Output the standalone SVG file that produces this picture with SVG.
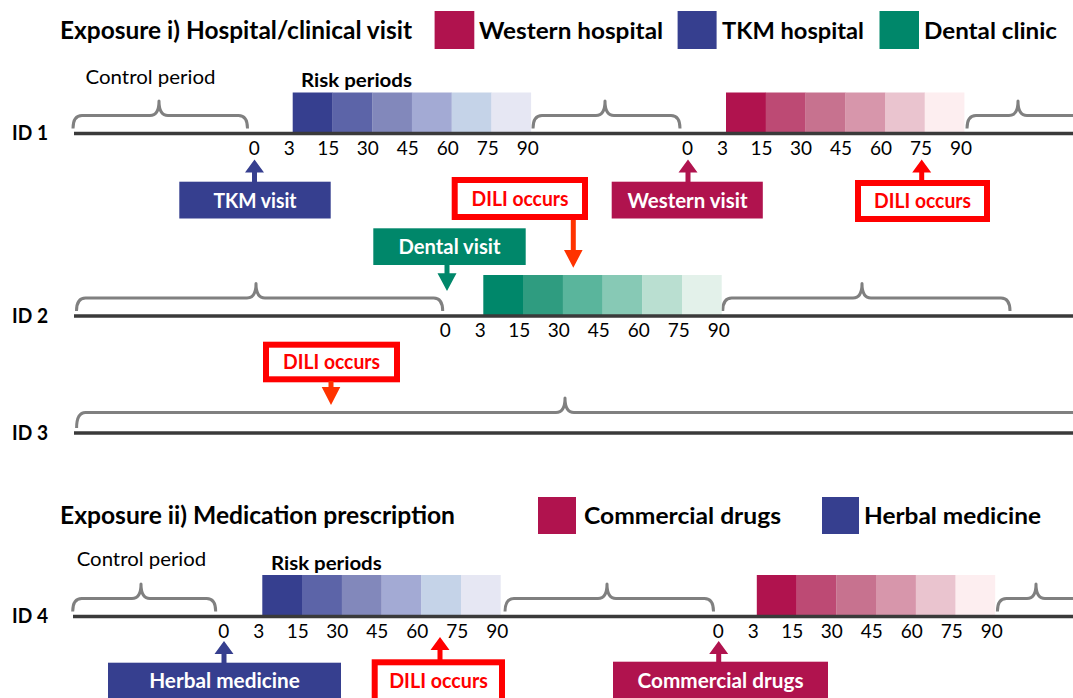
<svg xmlns="http://www.w3.org/2000/svg" width="1073" height="698" viewBox="0 0 1073 698">
<style>
text{font-family:Lato,"Open Sans","Liberation Sans",sans-serif;fill:#000}
.title{font-size:24px;font-weight:bold}
.leg{font-size:23.5px;font-weight:bold}
.id{font-size:20px;font-weight:bold}
.tick{font-size:19px;text-anchor:middle}
.cp{font-size:19.5px}
.rp{font-size:19.5px;font-weight:bold}
.bt{font-size:20px;font-weight:bold;fill:#fff;text-anchor:middle}
.rt{font-size:20px;font-weight:bold;fill:#ff0000;text-anchor:middle}
.line{stroke:#3a3a3a;stroke-width:3.5;fill:none}
.brace{stroke:#808080;stroke-width:3;fill:none;stroke-linejoin:round}
.rbox{fill:#fff;stroke:#ff0000;stroke-width:6}
.b1{fill:#363f8f}.b2{fill:#5c64a8}.b3{fill:#8288bb}.b4{fill:#a3aad4}.b5{fill:#c5d3e8}.b6{fill:#e6e7f3}
.r1{fill:#b0134e}.r2{fill:#bd4a74}.r3{fill:#c7728f}.r4{fill:#d796ab}.r5{fill:#eac4cf}.r6{fill:#fdeef0}
.g1{fill:#00876a}.g2{fill:#2f9c80}.g3{fill:#5ab59c}.g4{fill:#87c9b5}.g5{fill:#badfd1}.g6{fill:#e3f1ea}
</style>

<g id="title1">
<text class="title" x="60" y="39" textLength="352" lengthAdjust="spacingAndGlyphs">Exposure i) Hospital/clinical visit</text>
</g>
<g id="legend-western">
<rect class="r1" x="434.6" y="11" width="39.7" height="38"/>
<text class="leg" x="479" y="39" textLength="184" lengthAdjust="spacingAndGlyphs">Western hospital</text>
</g>
<g id="legend-tkm">
<rect class="b1" x="677.6" y="11" width="39" height="38"/>
<text class="leg" x="722" y="39" textLength="142" lengthAdjust="spacingAndGlyphs">TKM hospital</text>
</g>
<g id="legend-dental">
<rect class="g1" x="879.5" y="11" width="39.5" height="38"/>
<text class="leg" x="924" y="39" textLength="133" lengthAdjust="spacingAndGlyphs">Dental clinic</text>
</g>

<!-- ID 1 -->
<g id="id1">
<text class="id" x="12" y="139.5" textLength="36" lengthAdjust="spacingAndGlyphs">ID 1</text>
<text class="cp" x="85.5" y="84" textLength="130" lengthAdjust="spacingAndGlyphs">Control period</text>
<text class="rp" x="301" y="87" textLength="111" lengthAdjust="spacingAndGlyphs">Risk periods</text>
<path class="brace" d="M73 128.5 Q73 115.5 82 115.5 L150 115.5 Q159 115.5 159 101 Q159 115.5 168 115.5 L238.5 115.5 Q247.5 115.5 247.5 128.5"/>
<path class="brace" d="M533 128.5 Q533 115.5 542 115.5 L596 115.5 Q605 115.5 605 101 Q605 115.5 614 115.5 L671 115.5 Q680 115.5 680 128.5"/>
<path class="brace" d="M967 128.5 Q967 115.5 976 115.5 L1009 115.5 Q1018 115.5 1018 101 Q1018 115.5 1027 115.5 L1085 115.5"/>
<g>
<rect class="b1" x="292.7" y="92.5" width="40" height="40"/><rect class="b2" x="332.4" y="92.5" width="40" height="40"/><rect class="b3" x="372.2" y="92.5" width="40" height="40"/><rect class="b4" x="411.9" y="92.5" width="40" height="40"/><rect class="b5" x="451.7" y="92.5" width="40" height="40"/><rect class="b6" x="491.4" y="92.5" width="39.7" height="40"/>
</g>
<g>
<rect class="r1" x="726" y="92.5" width="40" height="40"/><rect class="r2" x="765.7" y="92.5" width="40" height="40"/><rect class="r3" x="805.5" y="92.5" width="40" height="40"/><rect class="r4" x="845.2" y="92.5" width="40" height="40"/><rect class="r5" x="885" y="92.5" width="40" height="40"/><rect class="r6" x="924.7" y="92.5" width="39.7" height="40"/>
</g>
<line class="line" x1="74" y1="133.5" x2="1073" y2="133.5"/>
<g>
<text class="tick" x="254.2" y="154.5">0</text><text class="tick" x="289.2" y="154.5">3</text><text class="tick" x="328.2" y="154.5">15</text><text class="tick" x="367.7" y="154.5">30</text><text class="tick" x="407.7" y="154.5">45</text><text class="tick" x="447.7" y="154.5">60</text><text class="tick" x="487.7" y="154.5">75</text><text class="tick" x="527.7" y="154.5">90</text>
</g>
<g>
<text class="tick" x="687.5" y="154.5">0</text><text class="tick" x="722.5" y="154.5">3</text><text class="tick" x="761.5" y="154.5">15</text><text class="tick" x="801" y="154.5">30</text><text class="tick" x="841" y="154.5">45</text><text class="tick" x="881" y="154.5">60</text><text class="tick" x="921" y="154.5">75</text><text class="tick" x="961" y="154.5">90</text>
</g>
</g>

<g id="tkm-visit">
<rect class="b1" x="179.3" y="181.7" width="151.4" height="36.8"/>
<text class="bt" x="255" y="207.5" textLength="83" lengthAdjust="spacingAndGlyphs">TKM visit</text>
</g>
<g id="dili-1a">
<rect class="rbox" x="454.7" y="180" width="130.3" height="37"/>
<text class="rt" x="520" y="205.5" textLength="97" lengthAdjust="spacingAndGlyphs">DILI occurs</text>
</g>
<g id="western-visit">
<rect class="r1" x="611.7" y="181.7" width="151.1" height="36.8"/>
<text class="bt" x="687.5" y="207.5" textLength="120" lengthAdjust="spacingAndGlyphs">Western visit</text>
</g>
<g id="dili-1b">
<rect class="rbox" x="858" y="183" width="129" height="36"/>
<text class="rt" x="922.5" y="208" textLength="97" lengthAdjust="spacingAndGlyphs">DILI occurs</text>
</g>
<g id="dental-visit">
<rect class="g1" x="373.3" y="228.3" width="152.4" height="36.7"/>
<text class="bt" x="449.5" y="254" textLength="102" lengthAdjust="spacingAndGlyphs">Dental visit</text>
</g>

<!-- ID 2 -->
<g id="id2">
<text class="id" x="12" y="323" textLength="36" lengthAdjust="spacingAndGlyphs">ID 2</text>
<path class="brace" d="M76.5 311 Q76.5 298 85.5 298 L247 298 Q256 298 256 283.5 Q256 298 265 298 L433.7 298 Q442.7 298 442.7 311"/>
<path class="brace" d="M722.7 311 Q722.7 298 731.7 298 L853 298 Q862 298 862 283.5 Q862 298 871 298 L1001 298 Q1010 298 1010 311"/>
<g>
<rect class="g1" x="483.3" y="275" width="40" height="40"/><rect class="g2" x="523" y="275" width="40" height="40"/><rect class="g3" x="562.8" y="275" width="40" height="40"/><rect class="g4" x="602.5" y="275" width="40" height="40"/><rect class="g5" x="642.3" y="275" width="40" height="40"/><rect class="g6" x="682" y="275" width="39.7" height="40"/>
</g>
<line class="line" x1="74" y1="316" x2="1073" y2="316"/>
<g>
<text class="tick" x="445.3" y="337">0</text><text class="tick" x="480.3" y="337">3</text><text class="tick" x="519.3" y="337">15</text><text class="tick" x="558.8" y="337">30</text><text class="tick" x="598.8" y="337">45</text><text class="tick" x="638.8" y="337">60</text><text class="tick" x="678.8" y="337">75</text><text class="tick" x="718.8" y="337">90</text>
</g>
</g>

<g id="dili-3">
<rect class="rbox" x="266" y="344.7" width="131" height="34.6"/>
<text class="rt" x="331.5" y="369" textLength="97" lengthAdjust="spacingAndGlyphs">DILI occurs</text>
</g>

<!-- ID 3 -->
<g id="id3">
<text class="id" x="12" y="439.5" textLength="36" lengthAdjust="spacingAndGlyphs">ID 3</text>
<path class="brace" d="M76.6 428 Q76.6 412.5 85.6 412.5 L556 412.5 Q565 412.5 565 398 Q565 412.5 574 412.5 L1090 412.5"/>
<line class="line" x1="74" y1="433" x2="1073" y2="433"/>
</g>

<g id="title2">
<text class="title" x="60" y="524" textLength="395" lengthAdjust="spacingAndGlyphs">Exposure ii) Medication prescription</text>
</g>
<g id="legend-commercial">
<rect class="r1" x="538" y="497" width="38" height="37"/>
<text class="leg" x="584" y="524" textLength="197" lengthAdjust="spacingAndGlyphs">Commercial drugs</text>
</g>
<g id="legend-herbal">
<rect class="b1" x="822" y="497" width="37" height="37"/>
<text class="leg" x="864" y="524" textLength="177" lengthAdjust="spacingAndGlyphs">Herbal medicine</text>
</g>

<!-- ID 4 -->
<g id="id4">
<text class="id" x="12" y="622.5" textLength="36" lengthAdjust="spacingAndGlyphs">ID 4</text>
<text class="cp" x="76.7" y="566" textLength="129.5" lengthAdjust="spacingAndGlyphs">Control period</text>
<text class="rp" x="271" y="570" textLength="110.7" lengthAdjust="spacingAndGlyphs">Risk periods</text>
<path class="brace" d="M72.7 611.5 Q72.7 598.5 81.7 598.5 L132 598.5 Q141 598.5 141 584 Q141 598.5 150 598.5 L206.7 598.5 Q215.7 598.5 215.7 611.5"/>
<path class="brace" d="M505 611.5 Q505 598.5 514 598.5 L598 598.5 Q607 598.5 607 584 Q607 598.5 616 598.5 L704.5 598.5 Q713.5 598.5 713.5 611.5"/>
<path class="brace" d="M997.4 611.5 Q997.4 598.5 1006.4 598.5 L1027 598.5 Q1036 598.5 1036 584 Q1036 598.5 1045 598.5 L1085 598.5"/>
<g>
<rect class="b1" x="262.3" y="575" width="40" height="40"/><rect class="b2" x="302" y="575" width="40" height="40"/><rect class="b3" x="341.8" y="575" width="40" height="40"/><rect class="b4" x="381.5" y="575" width="40" height="40"/><rect class="b5" x="421.3" y="575" width="40" height="40"/><rect class="b6" x="461" y="575" width="39.7" height="40"/>
</g>
<g>
<rect class="r1" x="756.8" y="575" width="40" height="40"/><rect class="r2" x="796.5" y="575" width="40" height="40"/><rect class="r3" x="836.3" y="575" width="40" height="40"/><rect class="r4" x="876" y="575" width="40" height="40"/><rect class="r5" x="915.8" y="575" width="40" height="40"/><rect class="r6" x="955.5" y="575" width="39.7" height="40"/>
</g>
<line class="line" x1="73" y1="616.5" x2="1073" y2="616.5"/>
<g>
<text class="tick" x="223.8" y="637.5">0</text><text class="tick" x="258.8" y="637.5">3</text><text class="tick" x="297.8" y="637.5">15</text><text class="tick" x="337.3" y="637.5">30</text><text class="tick" x="377.3" y="637.5">45</text><text class="tick" x="417.3" y="637.5">60</text><text class="tick" x="457.3" y="637.5">75</text><text class="tick" x="497.3" y="637.5">90</text>
</g>
<g>
<text class="tick" x="718.3" y="637.5">0</text><text class="tick" x="753.3" y="637.5">3</text><text class="tick" x="792.3" y="637.5">15</text><text class="tick" x="831.8" y="637.5">30</text><text class="tick" x="871.8" y="637.5">45</text><text class="tick" x="911.8" y="637.5">60</text><text class="tick" x="951.8" y="637.5">75</text><text class="tick" x="991.8" y="637.5">90</text>
</g>
</g>

<g id="herbal-medicine">
<rect class="b1" x="108" y="662.7" width="233" height="40"/>
<text class="bt" x="224.5" y="688" textLength="150.7" lengthAdjust="spacingAndGlyphs">Herbal medicine</text>
</g>
<g id="dili-4">
<rect class="rbox" x="374.7" y="662.3" width="127.3" height="40"/>
<text class="rt" x="438.5" y="688" textLength="98.7" lengthAdjust="spacingAndGlyphs">DILI occurs</text>
</g>
<g id="commercial-drugs">
<rect class="r1" x="613" y="661.7" width="215" height="40"/>
<text class="bt" x="720.5" y="688" textLength="166" lengthAdjust="spacingAndGlyphs">Commercial drugs</text>
</g>

<g id="connectors">
<path fill="#363f8f" d="M254.5 159.5 L264 172.5 L257 172.5 L257 182 L252 182 L252 172.5 L245 172.5 Z"/>
<path fill="#b0134e" d="M688 159.5 L697.5 172.5 L690.5 172.5 L690.5 182 L685.5 182 L685.5 172.5 L678.5 172.5 Z"/>
<path fill="#ff0000" d="M921.7 159.5 L931.2 172.5 L924.2 172.5 L924.2 181 L919.2 181 L919.2 172.5 L912.2 172.5 Z"/>
<path fill="#ff3300" d="M573.3 267.7 L582.6 250 L575.8 250 L575.8 220 L570.8 220 L570.8 250 L564 250 Z"/>
<path fill="#00876a" d="M447 291 L456.5 273.3 L449.5 273.3 L449.5 264 L444.5 264 L444.5 273.3 L437.5 273.3 Z"/>
<path fill="#ff3300" d="M331 405 L340.3 387 L333.5 387 L333.5 381 L328.5 381 L328.5 387 L321.7 387 Z"/>
<path fill="#363f8f" d="M224 641 L233.5 654 L226.5 654 L226.5 663.5 L221.5 663.5 L221.5 654 L214.5 654 Z"/>
<path fill="#ff0000" d="M440 637 L449.5 650 L442.5 650 L442.5 660 L437.5 660 L437.5 650 L430.5 650 Z"/>
<path fill="#b0134e" d="M718.7 641 L728.2 654 L721.2 654 L721.2 662.5 L716.2 662.5 L716.2 654 L709.2 654 Z"/>
</g>
</svg>
